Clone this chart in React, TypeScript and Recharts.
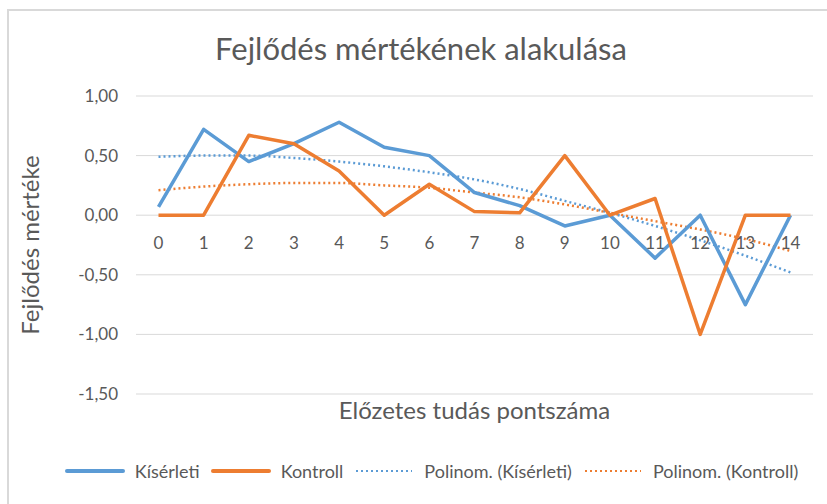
import React from "react";
import { LineChart, Line, XAxis, YAxis, CartesianGrid, Legend, Label } from "recharts";

const categories = ["0", "1", "2", "3", "4", "5", "6", "7", "8", "9", "10", "11", "12", "13", "14"];
const kiserleti = [0.07, 0.72, 0.45, 0.6, 0.78, 0.57, 0.5, 0.19, 0.08, -0.09, 0.0, -0.36, 0.0, -0.75, 0.0];
const kontroll = [0.0, 0.0, 0.67, 0.6, 0.37, 0.0, 0.26, 0.03, 0.02, 0.5, 0.0, 0.14, -1.0, 0.0, 0.0];
const polKiserleti = [0.49, 0.5, 0.5, 0.48, 0.45, 0.41, 0.36, 0.3, 0.22, 0.12, 0.02, -0.09, -0.21, -0.34, -0.48];
const polKontroll = [0.21, 0.24, 0.26, 0.27, 0.27, 0.25, 0.23, 0.19, 0.15, 0.09, 0.02, -0.05, -0.12, -0.2, -0.3];
const yTicks = [-1.5, -1, -0.5, 0, 0.5, 1];

const BLUE = "#5B9BD5";
const ORANGE = "#ED7D31";
const TEXT = "#595959";
const FONT = "Lato, 'Open Sans', sans-serif";

const data = categories.map((c, i) => ({
  name: c,
  kiserleti: kiserleti[i],
  kontroll: kontroll[i],
  polKiserleti: polKiserleti[i],
  polKontroll: polKontroll[i],
}));

const legendItems = [
  { label: "Kísérleti", color: BLUE, dotted: false },
  { label: "Kontroll", color: ORANGE, dotted: false },
  { label: "Polinom. (Kísérleti)", color: BLUE, dotted: true },
  { label: "Polinom. (Kontroll)", color: ORANGE, dotted: true },
];

function LegendContent() {
  return (
    <div style={{ height: 87, paddingTop: 42, paddingLeft: 52, boxSizing: "border-box" }}>
      <div
        style={{
          display: "flex",
          justifyContent: "center",
          alignItems: "center",
          fontFamily: FONT,
          fontSize: 18,
          lineHeight: "24px",
          color: TEXT,
        }}
      >
        {legendItems.map((it) => (
          <div key={it.label} style={{ display: "flex", alignItems: "center", marginRight: 11 }}>
            <svg width={60} height={10} style={{ marginRight: 10 }}>
              <line
                x1={2}
                x2={58}
                y1={5}
                y2={5}
                stroke={it.color}
                strokeWidth={it.dotted ? 2 : 4}
                strokeDasharray={it.dotted ? "2 3" : undefined}
                strokeLinecap={it.dotted ? "butt" : "round"}
              />
            </svg>
            <span>{it.label}</span>
          </div>
        ))}
      </div>
    </div>
  );
}

function XTick(props: any) {
  const { x, y, payload } = props;
  return (
    <text x={x} y={y - 153} textAnchor="middle" fill={TEXT} fontFamily={FONT} fontSize={17}>
      {payload.value}
    </text>
  );
}

export default function App() {
  return (
    <div
      style={{
        position: "absolute",
        left: 7,
        top: 9,
        width: 818,
        height: 493,
        borderLeft: "2px solid #d9d9d9",
        borderTop: "2px solid #d9d9d9",
        background: "#fff",
      }}
    >
      <div
        style={{
          position: "absolute",
          top: 19,
          left: 3,
          width: 818,
          textAlign: "center",
          fontFamily: FONT,
          fontSize: 31,
          color: TEXT,
          lineHeight: "36px",
        }}
      >
        Fejlődés mértékének alakulása
      </div>
      <LineChart width={818} height={493} data={data} margin={{ top: 85, right: 14, bottom: 0, left: 0 }}>
        <CartesianGrid vertical={false} stroke="#d9d9d9" strokeWidth={1} />
        <XAxis
          dataKey="name"
          axisLine={false}
          tickLine={false}
          tick={<XTick />}
          padding={{ left: 22.5, right: 22.5 }}
          height={23}
          interval={0}
        >
          <Label
            value="Előzetes tudás pontszáma"
            position="insideBottom"
            offset={-2}
            fill={TEXT}
            fontFamily={FONT}
            fontSize={24}
          />
        </XAxis>
        <YAxis
          width={127}
          domain={[-1.5, 1]}
          ticks={yTicks}
          axisLine={false}
          tickLine={false}
          tickMargin={12}
          tickFormatter={(v: number) => v.toFixed(2).replace(".", ",")}
          tick={{ fill: TEXT, fontFamily: FONT, fontSize: 17 }}
        >
          <Label
            value="Fejlődés mértéke"
            angle={-90}
            position="center"
            dx={-42}
            fill={TEXT}
            fontFamily={FONT}
            fontSize={24}
          />
        </YAxis>
        <Legend verticalAlign="bottom" content={<LegendContent />} />
        <Line
          dataKey="polKiserleti"
          type="monotone"
          stroke={BLUE}
          strokeWidth={2.5}
          strokeDasharray="2 3"
          dot={false}
          activeDot={false}
          isAnimationActive={false}
        />
        <Line
          dataKey="polKontroll"
          type="monotone"
          stroke={ORANGE}
          strokeWidth={2.5}
          strokeDasharray="2 3"
          dot={false}
          activeDot={false}
          isAnimationActive={false}
        />
        <Line
          dataKey="kiserleti"
          type="linear"
          stroke={BLUE}
          strokeWidth={3.5}
          strokeLinejoin="round"
          dot={false}
          activeDot={false}
          isAnimationActive={false}
        />
        <Line
          dataKey="kontroll"
          type="linear"
          stroke={ORANGE}
          strokeWidth={3.5}
          strokeLinejoin="round"
          dot={false}
          activeDot={false}
          isAnimationActive={false}
        />
      </LineChart>
    </div>
  );
}
